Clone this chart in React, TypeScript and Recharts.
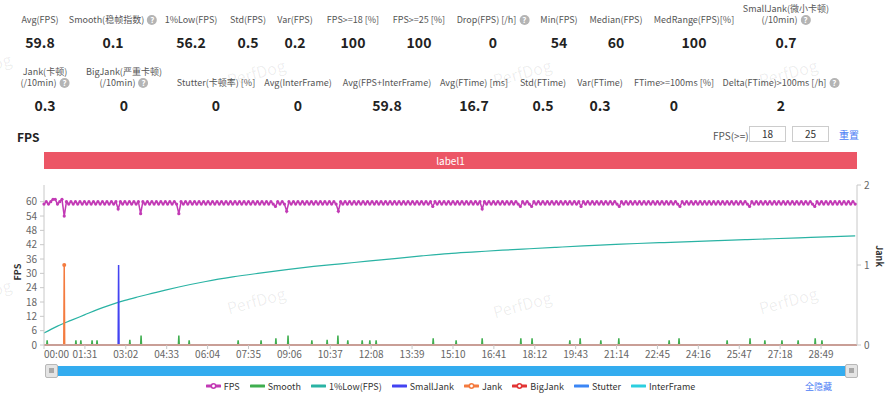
import { ComposedChart, Line, XAxis, YAxis } from "recharts";

const FONT = '"Noto Sans CJK SC", "Noto Sans", sans-serif';

const C = {
  fps: "#c23ab5",
  smooth: "#3fae4f",
  low: "#2ab3a4",
  smallJank: "#4343f2",
  jank: "#f47b3f",
  bigJank: "#e23535",
  stutter: "#3b86f5",
  interFrame: "#2ccfdf",
  axis: "#c8c8c8",
  tick: "#666",
};

// ---- summary stats ----
const statsTop = [
  { label: ["Avg(FPS)"], value: "59.8" },
  { label: ["Smooth(稳帧指数)"], value: "0.1", help: true },
  { label: ["1%Low(FPS)"], value: "56.2" },
  { label: ["Std(FPS)"], value: "0.5" },
  { label: ["Var(FPS)"], value: "0.2" },
  { label: ["FPS>=18 [%]"], value: "100" },
  { label: ["FPS>=25 [%]"], value: "100" },
  { label: ["Drop(FPS) [/h]"], value: "0", help: true },
  { label: ["Min(FPS)"], value: "54" },
  { label: ["Median(FPS)"], value: "60" },
  { label: ["MedRange(FPS)[%]"], value: "100" },
  { label: ["SmallJank(微小卡顿)", "(/10min)"], value: "0.7", help: true },
];
const statsBottom = [
  { label: ["Jank(卡顿)", "(/10min)"], value: "0.3", help: true },
  { label: ["BigJank(严重卡顿)", "(/10min)"], value: "0", help: true },
  { label: ["Stutter(卡顿率) [%]"], value: "0" },
  { label: ["Avg(InterFrame)"], value: "0" },
  { label: ["Avg(FPS+InterFrame)"], value: "59.8" },
  { label: ["Avg(FTime) [ms]"], value: "16.7" },
  { label: ["Std(FTime)"], value: "0.5" },
  { label: ["Var(FTime)"], value: "0.3" },
  { label: ["FTime>=100ms [%]"], value: "0" },
  { label: ["Delta(FTime)>100ms [/h]"], value: "2", help: true },
];
const topCenters = [40, 113, 191, 248, 295, 353, 419, 493, 559, 616, 694, 786];
const bottomCenters = [45, 124, 216, 298, 387, 474, 543, 600, 674, 781];

// ---- chart data ----
const END_T = 1809;
const FPS_STEP = 5; // seconds between FPS samples
const fpsValues = [
  59, 60, 59, 60, 61, 61, 59, 60, 61, 54, 60, 59, 60, 59, 60, 59, 60, 59, 60, 59,
  60, 59, 60, 59, 60, 59, 60, 59, 60, 59, 60, 59, 60, 57, 60, 59, 60, 59, 60, 59,
  60, 59, 60, 55, 60, 59, 60, 59, 60, 59, 60, 59, 60, 59, 60, 59, 60, 59, 60, 59,
  55, 60, 59, 60, 59, 60, 59, 60, 59, 60, 59, 60, 59, 60, 59, 60, 59, 60, 59, 60,
  59, 60, 59, 60, 59, 60, 59, 60, 59, 60, 59, 60, 59, 60, 59, 60, 59, 60, 59, 60,
  59, 60, 59, 58, 60, 59, 60, 59, 56, 60, 59, 60, 59, 60, 59, 60, 59, 60, 59, 60,
  59, 60, 59, 60, 59, 60, 59, 60, 59, 60, 59, 56, 60, 59, 60, 59, 60, 59, 60, 59,
  60, 59, 60, 59, 60, 59, 60, 59, 60, 59, 60, 59, 60, 59, 60, 59, 60, 59, 60, 59,
  60, 59, 60, 59, 60, 59, 60, 59, 60, 59, 60, 59, 60, 58, 60, 59, 60, 59, 60, 59,
  60, 59, 60, 59, 60, 59, 60, 59, 60, 59, 60, 59, 60, 59, 60, 57, 60, 59, 60, 59,
  60, 59, 60, 59, 60, 59, 60, 59, 60, 59, 60, 59, 58, 60, 59, 60, 59, 58, 60, 59,
  60, 59, 60, 59, 60, 59, 60, 59, 60, 59, 60, 59, 60, 59, 60, 59, 60, 59, 60, 58,
  60, 59, 60, 59, 60, 59, 60, 59, 60, 59, 60, 59, 60, 59, 60, 59, 58, 60, 59, 60,
  59, 60, 59, 60, 59, 60, 59, 60, 59, 60, 59, 60, 59, 60, 59, 60, 59, 60, 59, 60,
  59, 60, 59, 58, 60, 59, 60, 59, 60, 59, 60, 59, 60, 59, 60, 59, 60, 59, 60, 59,
  60, 59, 60, 59, 60, 59, 60, 59, 60, 59, 60, 59, 60, 59, 58, 60, 59, 60, 59, 60,
  59, 60, 59, 60, 59, 60, 59, 60, 59, 60, 59, 60, 59, 60, 59, 60, 59, 60, 59, 60,
  59, 60, 59, 58, 60, 59, 60, 59, 60, 59, 60, 59, 60, 59, 60, 59, 60, 59, 60, 59,
  60, 59,
];

// 1%Low(FPS): [time s, value]
const lowPoints: [number, number][] = [
  [0, 5], [30, 7.9], [60, 10.3], [90, 12.6], [120, 14.9], [150, 16.9], [180, 18.7],
  [210, 20.2], [240, 21.6], [270, 23], [300, 24.3], [360, 26.6], [420, 28.5],
  [480, 30.1], [540, 31.6], [600, 32.9], [660, 34], [720, 35.1], [780, 36.2],
  [840, 37.3], [900, 38.3], [960, 39], [1020, 39.7], [1080, 40.3], [1140, 40.9],
  [1200, 41.5], [1260, 42], [1320, 42.5], [1380, 42.9], [1440, 43.3], [1500, 43.7],
  [1560, 44.1], [1620, 44.5], [1680, 44.9], [1740, 45.3], [1805, 45.7],
];

// Smooth spikes: [time s, value]
const smoothSpikes: [number, number][] = [
  [7, 2], [71, 2], [82, 2], [107, 2], [118, 2], [191, 2.2], [216, 4], [300, 4],
  [323, 2], [432, 2], [483, 2], [516, 2.8], [543, 4], [596, 2], [630, 2.2],
  [654, 4], [676, 2], [708, 2], [725, 2], [739, 2], [866, 2.8], [917, 2],
  [975, 2.8], [1061, 2.8], [1086, 2.8], [1170, 2], [1193, 2.8], [1239, 2],
  [1279, 2.8], [1391, 2], [1413, 2.8], [1520, 2], [1571, 2.8], [1604, 2],
  [1642, 2], [1678, 2], [1716, 2.8], [1731, 2],
];
const jankEvents: [number, number][] = [[45, 1]];
const smallJankEvents: [number, number][] = [[166, 1]];

const timeTicks = [
  0, 91, 182, 273, 364, 455, 546, 637, 728, 819, 910, 1001, 1092, 1183, 1274,
  1365, 1456, 1547, 1638, 1729,
];
const fpsTicks = [0, 6, 12, 18, 24, 30, 36, 42, 48, 54, 60];
const jankTicks = [0, 1, 2];

const legendItems = [
  { name: "FPS", color: C.fps, marker: true },
  { name: "Smooth", color: C.smooth },
  { name: "1%Low(FPS)", color: C.low },
  { name: "SmallJank", color: C.smallJank },
  { name: "Jank", color: C.jank, marker: true },
  { name: "BigJank", color: C.bigJank, marker: true },
  { name: "Stutter", color: C.stutter },
  { name: "InterFrame", color: C.interFrame },
];

type Row = {
  t: number;
  fps?: number;
  low?: number;
  smooth?: number;
  jank?: number;
  smallJank?: number;
};

function buildRows(): Row[] {
  const map = new Map<number, Row>();
  const get = (t: number) => {
    let r = map.get(t);
    if (!r) {
      r = { t };
      map.set(t, r);
    }
    return r;
  };
  fpsValues.forEach((v, i) => (get(i * FPS_STEP).fps = v));
  lowPoints.forEach(([t, v]) => (get(t).low = v));
  const spikes = (list: [number, number][], key: "smooth" | "jank" | "smallJank") => {
    get(0)[key] = 0;
    get(END_T)[key] = 0;
    list.forEach(([t, v]) => {
      get(t - 1)[key] = 0;
      get(t)[key] = v;
      get(t + 1)[key] = 0;
    });
  };
  spikes(smoothSpikes, "smooth");
  spikes(jankEvents, "jank");
  spikes(smallJankEvents, "smallJank");
  return [...map.values()].sort((a, b) => a.t - b.t);
}

const rows = buildRows();

const fmtTime = (t: number) =>
  `${String(Math.floor(t / 60)).padStart(2, "0")}:${String(t % 60).padStart(2, "0")}`;

// first label sits to the right of its tick, the rest are centred
function TimeTick(props: any) {
  const { x, y, payload } = props;
  return (
    <text
      x={x}
      y={y}
      dy="0.71em"
      textAnchor={payload.value === 0 ? "start" : "middle"}
      fontSize={10}
      fill={C.tick}
    >
      {fmtTime(payload.value)}
    </text>
  );
}

function HelpIcon() {
  return (
    <span
      style={{
        display: "inline-block",
        width: 10,
        height: 10,
        borderRadius: 5,
        background: "#b4b4b4",
        color: "#fff",
        fontSize: 8,
        lineHeight: "10px",
        textAlign: "center",
        fontWeight: 700,
        marginLeft: 3,
        verticalAlign: "middle",
      }}
    >
      ?
    </span>
  );
}

function Stat({
  stat,
  cx,
  labelY,
  valueY,
}: {
  stat: { label: string[]; value: string; help?: boolean };
  cx: number;
  labelY: number;
  valueY: number;
}) {
  const n = stat.label.length;
  return (
    <>
      <div
        style={{
          position: "absolute",
          left: cx,
          top: labelY - 5.5 - (n - 1) * 11,
          transform: "translateX(-50%)",
          textAlign: "center",
          fontSize: 9,
          lineHeight: "11px",
          color: "#555",
          whiteSpace: "nowrap",
        }}
      >
        {stat.label.map((l, i) => (
          <div key={i}>
            {l}
            {stat.help && i === n - 1 && <HelpIcon />}
          </div>
        ))}
      </div>
      <div
        style={{
          position: "absolute",
          left: cx,
          top: valueY - 10,
          transform: "translateX(-50%)",
          textAlign: "center",
          fontSize: 14,
          lineHeight: "20px",
          fontWeight: 700,
          color: "#222",
          whiteSpace: "nowrap",
        }}
      >
        {stat.value}
      </div>
    </>
  );
}

function LegendIcon({ color, marker }: { color: string; marker?: boolean }) {
  return (
    <svg width={15} height={8} style={{ marginRight: 3 }}>
      <line x1={1} y1={4} x2={14} y2={4} stroke={color} strokeWidth={3} strokeLinecap="round" />
      {marker && <circle cx={7.5} cy={4} r={2.2} fill="#fff" stroke={color} strokeWidth={1.5} />}
    </svg>
  );
}

const fpsDot = (p: any) =>
  typeof p.cy === "number" && p.payload?.fps != null ? (
    <circle key={`f${p.index}`} cx={p.cx} cy={p.cy} r={1.6} fill={C.fps} />
  ) : (
    <g key={`f${p.index}`} />
  );

const jankDot = (p: any) =>
  p.payload?.jank > 0 ? (
    <circle key={`j${p.index}`} cx={p.cx} cy={p.cy} r={2} fill={C.jank} />
  ) : (
    <g key={`j${p.index}`} />
  );

const watermarks = [
  [-18, 66], [256, 72], [522, 72], [788, 72],
  [-18, 292], [256, 300], [522, 304], [788, 300],
];

export default function App() {
  return (
    <div
      style={{
        position: "absolute",
        left: 0,
        top: 0,
        width: 890,
        height: 396,
        background: "#fff",
        overflow: "hidden",
        fontFamily: FONT,
      }}
    >
      {statsTop.map((s, i) => (
        <Stat key={s.label[0]} stat={s} cx={topCenters[i]} labelY={19} valueY={42} />
      ))}
      {statsBottom.map((s, i) => (
        <Stat key={s.label[0]} stat={s} cx={bottomCenters[i]} labelY={82} valueY={105} />
      ))}

      <div style={{ position: "absolute", left: 17, top: 128, fontSize: 12, fontWeight: 700, color: "#222" }}>
        FPS
      </div>
      <div style={{ position: "absolute", left: 713, top: 128, fontSize: 10, color: "#555" }}>FPS(&gt;=)</div>
      {["18", "25"].map((v, i) => (
        <div
          key={v}
          style={{
            position: "absolute",
            left: 749 + i * 43,
            top: 126,
            width: 35,
            height: 14,
            border: "1px solid #ccc",
            fontSize: 10,
            lineHeight: "14px",
            textAlign: "center",
            color: "#333",
          }}
        >
          {v}
        </div>
      ))}
      <div style={{ position: "absolute", left: 839, top: 127, fontSize: 10, color: "#4a7cf5" }}>重置</div>

      <div
        style={{
          position: "absolute",
          left: 44,
          top: 152,
          width: 813,
          height: 17,
          background: "#ec5666",
          color: "#fff",
          fontSize: 10,
          lineHeight: "17px",
          textAlign: "center",
        }}
      >
        label1
      </div>

      <div style={{ position: "absolute", left: 0, top: 0 }}>
        <ComposedChart width={890} height={370} data={rows} margin={{ top: 185, right: 13, bottom: 5, left: 4 }}>
          <XAxis
            dataKey="t"
            type="number"
            domain={[0, END_T]}
            ticks={timeTicks}
            tick={<TimeTick />}
            height={20}
            tickSize={4}
            tickMargin={2}
            stroke={C.axis}
            interval={0}
          />
          <YAxis
            yAxisId="left"
            domain={[0, 67]}
            ticks={fpsTicks}
            width={40}
            tickSize={4}
            tickMargin={3}
            stroke={C.axis}
            tick={{ fill: C.tick, fontSize: 10 }}
            interval={0}
          />
          <YAxis
            yAxisId="right"
            orientation="right"
            domain={[0, 2]}
            ticks={jankTicks}
            width={20}
            tickSize={4}
            tickMargin={3}
            stroke={C.axis}
            tick={{ fill: C.tick, fontSize: 10 }}
            interval={0}
          />
          <Line
            yAxisId="left"
            dataKey="smooth"
            stroke={C.smooth}
            strokeWidth={1.5}
            dot={false}
            connectNulls
            isAnimationActive={false}
            type="linear"
          />
          <Line
            yAxisId="left"
            dataKey="low"
            stroke={C.low}
            strokeWidth={1.2}
            dot={false}
            connectNulls
            isAnimationActive={false}
            type="monotone"
          />
          <Line
            yAxisId="right"
            dataKey="smallJank"
            stroke={C.smallJank}
            strokeWidth={1.5}
            dot={false}
            connectNulls
            isAnimationActive={false}
            type="linear"
          />
          <Line
            yAxisId="right"
            dataKey="jank"
            stroke={C.jank}
            strokeWidth={1.5}
            dot={jankDot}
            connectNulls
            isAnimationActive={false}
            type="linear"
          />
          <Line
            yAxisId="left"
            dataKey="fps"
            stroke={C.fps}
            strokeWidth={1.5}
            dot={fpsDot}
            connectNulls
            isAnimationActive={false}
            type="linear"
          />
        </ComposedChart>
      </div>

      <div
        style={{
          position: "absolute",
          left: 17,
          top: 272,
          transform: "translate(-50%, -50%) rotate(-90deg)",
          fontSize: 9,
          fontWeight: 700,
          color: "#333",
        }}
      >
        FPS
      </div>
      <div
        style={{
          position: "absolute",
          left: 879,
          top: 256,
          transform: "translate(-50%, -50%) rotate(90deg)",
          fontSize: 9,
          fontWeight: 700,
          color: "#333",
        }}
      >
        Jank
      </div>

      {/* data zoom slider */}
      <div style={{ position: "absolute", left: 50, top: 366, width: 800, height: 10, background: "#33acef" }} />
      {[45, 845].map((x) => (
        <div
          key={x}
          style={{
            position: "absolute",
            left: x,
            top: 364,
            width: 11,
            height: 12,
            background: "#e4e4e4",
            border: "1px solid #b8b8b8",
            borderRadius: 2,
          }}
        >
          <div style={{ margin: "3px 3px", width: 5, height: 5, background: "#a8a8a8" }} />
        </div>
      ))}

      {/* legend */}
      <div
        style={{
          position: "absolute",
          left: 44,
          width: 813,
          top: 379,
          height: 14,
          display: "flex",
          justifyContent: "center",
          alignItems: "center",
          gap: 10,
          fontSize: 9,
          color: "#333",
        }}
      >
        {legendItems.map((it) => (
          <span key={it.name} style={{ display: "inline-flex", alignItems: "center" }}>
            <LegendIcon color={it.color} marker={it.marker} />
            {it.name}
          </span>
        ))}
      </div>
      <div style={{ position: "absolute", left: 805, top: 380, fontSize: 9, color: "#4a7cf5" }}>全隐藏</div>

      {watermarks.map(([x, y], i) => (
        <div
          key={i}
          style={{
            position: "absolute",
            left: x,
            top: y,
            transform: "translate(-50%, -50%) rotate(-15deg)",
            fontSize: 16,
            color: "rgba(0,0,0,0.07)",
            pointerEvents: "none",
          }}
        >
          PerfDog
        </div>
      ))}
    </div>
  );
}
